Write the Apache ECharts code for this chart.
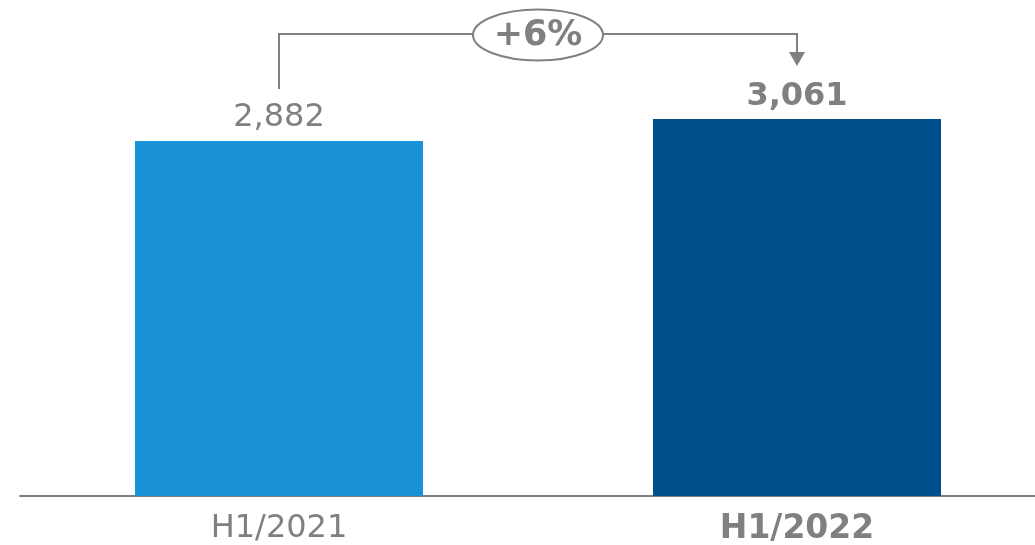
<!DOCTYPE html>
<html>
<head>
<meta charset="utf-8">
<script src="https://cdn.jsdelivr.net/npm/echarts@6/dist/echarts.min.js"></script>
<style>
  html, body { margin: 0; padding: 0; background: #fff; }
  #chart { width: 1035px; height: 545px; }
</style>
</head>
<body>
<div id="chart"></div>
<script>
// Half-year totals
const periods = ['H1/2021', 'H1/2022'];
const totals = [2882, 3061];
const barColors = ['#1992d6', '#01508c'];

const grey = '#808080';
const font = '"DejaVu Sans", Verdana, sans-serif';

const chart = echarts.init(document.getElementById('chart'), null, { renderer: 'canvas' });

chart.setOption({
  animation: false,
  grid: { left: 20, right: -21, top: 0, bottom: 49, containLabel: false, outerBoundsMode: 'none' },
  xAxis: {
    type: 'category',
    data: periods,
    axisLine: { lineStyle: { color: grey, width: 2 } },
    axisTick: { show: false },
    axisLabel: {
      margin: 17,
      color: grey,
      fontFamily: font,
      fontSize: 32,
      formatter: (v, i) => i === periods.length - 1 ? '{b|' + v + '}' : v,
      rich: { b: { fontWeight: 'bold', fontSize: 33, color: grey, fontFamily: font } }
    }
  },
  yAxis: {
    type: 'value',
    min: 0,
    max: 4027,
    show: false,
    splitLine: { show: false }
  },
  series: [{
    type: 'bar',
    barWidth: 288,
    data: totals.map((v, i) => ({
      value: v,
      itemStyle: { color: barColors[i] },
      label: {
        show: true,
        position: 'top',
        distance: i === totals.length - 1 ? 6 : 7,
        color: grey,
        fontFamily: font,
        fontSize: 32,
        fontWeight: i === totals.length - 1 ? 'bold' : 'normal',
        formatter: (p) => p.value.toLocaleString('en-US')
      }
    }))
  }]
});

// Growth bracket between the two bars
const p0 = chart.convertToPixel({ xAxisIndex: 0, yAxisIndex: 0 }, [0, totals[0]]);
const p1 = chart.convertToPixel({ xAxisIndex: 0, yAxisIndex: 0 }, [1, totals[1]]);
const growth = Math.round((totals[1] / totals[0] - 1) * 100);
const bracketY = 34;
const startY = p0[1] - 52;   // just above the first value label
const tipY = p1[1] - 53;     // arrow tip above the second value label
const midX = (p0[0] + p1[0]) / 2;

chart.setOption({
  graphic: [
    {
      type: 'polyline',
      shape: { points: [[p0[0], startY], [p0[0], bracketY], [p1[0], bracketY], [p1[0], tipY - 14]] },
      style: { stroke: grey, lineWidth: 2, fill: null },
      z: 10
    },
    {
      type: 'polygon',
      shape: { points: [[p1[0] - 8, tipY - 14], [p1[0] + 8, tipY - 14], [p1[0], tipY]] },
      style: { fill: grey },
      z: 10
    },
    {
      type: 'ellipse',
      shape: { cx: midX, cy: bracketY + 1, rx: 65, ry: 25.5 },
      style: { fill: '#fff', stroke: grey, lineWidth: 2 },
      z: 11
    },
    {
      type: 'text',
      x: midX,
      y: bracketY + 2,
      style: {
        text: '+' + growth + '%',
        fill: grey,
        font: 'bold 35px ' + font,
        align: 'center',
        verticalAlign: 'middle'
      },
      z: 12
    }
  ]
});
</script>
</body>
</html>
